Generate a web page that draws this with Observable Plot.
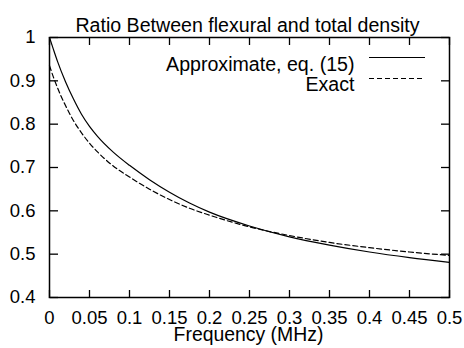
<!DOCTYPE html>
<html><head><meta charset="utf-8">
<script src="https://cdn.jsdelivr.net/npm/d3@7"></script>
<script src="https://cdn.jsdelivr.net/npm/@observablehq/plot@0.6"></script>
<style>body{margin:0;background:#fff}</style>
</head><body><div id="chart"></div>
<script>
const title = "Ratio Between flexural and total density";
const xLabel = "Frequency (MHz)";
const seriesNames = ["Approximate, eq. (15)", "Exact"];
const freq   = [0, 0.005, 0.01, 0.02, 0.03, 0.04, 0.05, 0.06, 0.08, 0.1, 0.125, 0.15, 0.175, 0.2, 0.25, 0.3, 0.35, 0.4, 0.45, 0.5];
const approx = [1.000, 0.972, 0.945, 0.898, 0.858, 0.823, 0.795, 0.772, 0.735, 0.705, 0.672, 0.643, 0.618, 0.597, 0.565, 0.540, 0.521, 0.505, 0.492, 0.481];
const exact  = [0.935, 0.908, 0.884, 0.843, 0.808, 0.780, 0.756, 0.736, 0.703, 0.678, 0.650, 0.626, 0.606, 0.590, 0.563, 0.543, 0.527, 0.515, 0.505, 0.497];
const xTicks = [0, 0.05, 0.1, 0.15, 0.2, 0.25, 0.3, 0.35, 0.4, 0.45, 0.5];
const xTickLabels = ["0", "0.05", "0.1", "0.15", "0.2", "0.25", "0.3", "0.35", "0.4", "0.45", "0.5"];
const yTicks = [0.4, 0.5, 0.6, 0.7, 0.8, 0.9, 1];
const yTickLabels = ["0.4", "0.5", "0.6", "0.7", "0.8", "0.9", "1"];

const approxData = freq.map((f, i) => ({f, v: approx[i]}));
const exactData = freq.map((f, i) => ({f, v: exact[i]}));

const chart = Plot.plot({
  width: 464, height: 348,
  marginLeft: 49, marginRight: 15, marginTop: 37, marginBottom: 51,
  style: {fontFamily: "'Liberation Sans', Arial, Helvetica, sans-serif", fontSize: "18.5px", color: "black", background: "white"},
  x: {domain: [0, 0.5]},
  y: {domain: [0.4, 1]},
  marks: [
    Plot.axisX(xTicks, {anchor: "bottom", tickSize: 0, tickPadding: 13, tickFormat: d => xTickLabels[xTicks.indexOf(d)], label: null}),
    Plot.axisX(xTicks, {anchor: "top", frameAnchor: "bottom", tickSize: 8, fill: "none", label: null, strokeWidth: 1.3}),
    Plot.axisX(xTicks, {anchor: "bottom", frameAnchor: "top", tickSize: 8, fill: "none", label: null, strokeWidth: 1.3}),
    Plot.axisY(yTicks, {anchor: "left", tickSize: 0, tickPadding: 14, tickFormat: d => yTickLabels[yTicks.indexOf(d)], label: null}),
    Plot.axisY(yTicks, {anchor: "right", frameAnchor: "left", tickSize: 8, fill: "none", label: null, strokeWidth: 1.3}),
    Plot.axisY(yTicks, {anchor: "left", frameAnchor: "right", tickSize: 8, fill: "none", label: null, strokeWidth: 1.3}),
    Plot.frame({stroke: "black", strokeWidth: 1.5}),
    Plot.line(approxData, {x: "f", y: "v", stroke: "black", strokeWidth: 1.2, curve: "monotone-x"}),
    Plot.line(exactData, {x: "f", y: "v", stroke: "black", strokeWidth: 1.2, strokeDasharray: "5,3", curve: "monotone-x"}),
    Plot.text([seriesNames[0]], {frameAnchor: "top-right", textAnchor: "end", dx: -95, dy: 20, fontSize: 19.6}),
    Plot.text([seriesNames[1]], {frameAnchor: "top-right", textAnchor: "end", dx: -95, dy: 40, fontSize: 19.6}),
    Plot.ruleY([1], {dy: 20, insetLeft: 320, insetRight: 24, stroke: "black", strokeWidth: 1.2}),
    Plot.ruleY([1], {dy: 41, insetLeft: 320, insetRight: 24, stroke: "black", strokeWidth: 1.2, strokeDasharray: "5,3"}),
    Plot.text([title], {frameAnchor: "top", dx: -2, dy: -19, fontSize: 19.6}),
    Plot.text([xLabel], {frameAnchor: "bottom", dx: -1, dy: 43, fontSize: 19.4})
  ]
});
document.getElementById("chart").appendChild(chart);
</script>
</body></html>
